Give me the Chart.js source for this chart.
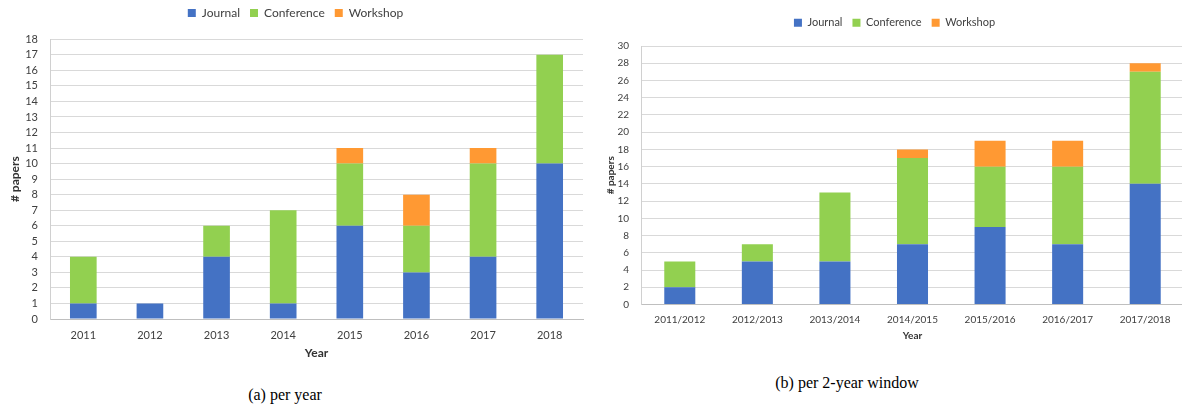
<!DOCTYPE html>
<html>
<head>
<meta charset="utf-8">
<script src="https://cdn.jsdelivr.net/npm/chart.js@4/dist/chart.umd.min.js"></script>
<style>
  html, body { margin: 0; padding: 0; background: #ffffff; width: 1182px; height: 408px; overflow: hidden; position: relative; }
  canvas { position: absolute; }
  #chartA { left: 0px; top: -3px; }
  #chartB { left: 605px; top: 0px; }
  .caption { position: absolute; font-family: "Liberation Serif", "Times New Roman", serif; font-size: 16px; color: #000; white-space: nowrap; transform: translate(-50%, -50%); }
</style>
</head>
<body>
<canvas id="chartA" width="590" height="370"></canvas>
<canvas id="chartB" width="579" height="352"></canvas>
<div class="caption" style="left:285px; top:395px;">(a) per year</div>
<div class="caption" style="left:847px; top:383px;">(b) per 2-year window</div>
<script>
// Papers per year
const years = ['2011', '2012', '2013', '2014', '2015', '2016', '2017', '2018'];
const journalPerYear = [1, 1, 4, 1, 6, 3, 4, 10];
const conferencePerYear = [3, 0, 2, 6, 4, 3, 6, 7];
const workshopPerYear = [0, 0, 0, 0, 1, 2, 1, 0];

// Papers per 2-year window
const windows = ['2011/2012', '2012/2013', '2013/2014', '2014/2015', '2015/2016', '2016/2017', '2017/2018'];
const journalPerWindow = [2, 5, 5, 7, 9, 7, 14];
const conferencePerWindow = [3, 2, 8, 10, 7, 9, 13];
const workshopPerWindow = [0, 0, 0, 1, 3, 3, 1];

const seriesNames = ['Journal', 'Conference', 'Workshop'];
const seriesColors = ['#4472C4', '#92D050', '#FF9933'];

const FONT = 'Lato, "Open Sans", sans-serif';

// Adds extra space below the legend
const legendGap = {
  id: 'legendGap',
  beforeInit(chart, args, opts) {
    if (!chart.legend) return;
    const fit = chart.legend.fit;
    chart.legend.fit = function () {
      fit.bind(chart.legend)();
      this.height += opts.gap || 0;
    };
  }
};

function makeChart(id, cfg) {
  const datasets = [cfg.journal, cfg.conference, cfg.workshop].map((values, i) => ({
    label: seriesNames[i],
    data: values,
    backgroundColor: seriesColors[i],
    borderWidth: 0,
    barPercentage: 0.4,
    categoryPercentage: 1.0
  }));
  return new Chart(document.getElementById(id), {
    type: 'bar',
    data: { labels: cfg.labels, datasets },
    plugins: [legendGap],
    options: {
      responsive: false,
      animation: false,
      devicePixelRatio: 1,
      layout: { padding: cfg.padding },
      plugins: {
        legendGap: { gap: cfg.legendGap },
        tooltip: { enabled: false },
        legend: {
          position: 'top',
          labels: {
            boxWidth: 8,
            boxHeight: 8,
            padding: 10,
            color: '#404040',
            font: { family: FONT, size: cfg.legendSize }
          }
        }
      },
      scales: {
        x: {
          stacked: true,
          grid: { display: false, drawTicks: false },
          border: { display: true, color: '#BFBFBF', width: 1 },
          ticks: { color: '#404040', padding: cfg.xTickPad, font: { family: FONT, size: cfg.tickSize }, maxRotation: 0, autoSkip: false },
          title: { display: true, text: 'Year', color: '#333333', font: { family: FONT, size: cfg.titleSize, weight: 'bold' }, padding: { top: 4, bottom: 4 } },
          afterFit(scale) { scale.height = cfg.xHeight; }
        },
        y: {
          stacked: true,
          min: 0,
          max: cfg.yMax,
          grid: { color: '#D9D9D9', lineWidth: 1, drawTicks: false },
          border: { display: true, color: '#D0D0D0', width: 1 },
          ticks: { stepSize: cfg.yStep, autoSkip: false, color: '#404040', padding: 12, font: { family: FONT, size: cfg.tickSize } },
          title: { display: true, text: '# papers', color: '#333333', font: { family: FONT, size: cfg.titleSize, weight: 'bold' }, padding: { top: cfg.yTitlePad, bottom: 4 } },
          afterFit(scale) { scale.width = cfg.yWidth; }
        }
      }
    }
  });
}

makeChart('chartA', {
  labels: years,
  journal: journalPerYear,
  conference: conferencePerYear,
  workshop: workshopPerYear,
  yMax: 18,
  yStep: 1,
  padding: { top: 0, left: 8, right: 7, bottom: 2.8 },
  legendGap: 10.3,
  legendSize: 12,
  tickSize: 11,
  titleSize: 12,
  xTickPad: 9.4,
  xHeight: 45.2,
  yWidth: 42,
  yTitlePad: 0
});

makeChart('chartB', {
  labels: windows,
  journal: journalPerWindow,
  conference: conferencePerWindow,
  workshop: workshopPerWindow,
  yMax: 30,
  yStep: 2,
  padding: { top: 7.2, left: 0, right: 0, bottom: 6.3 },
  legendGap: 7.8,
  legendSize: 11,
  tickSize: 10,
  titleSize: 10,
  xTickPad: 9.5,
  xHeight: 41.2,
  yWidth: 36,
  yTitlePad: 0
});
</script>
</body>
</html>
